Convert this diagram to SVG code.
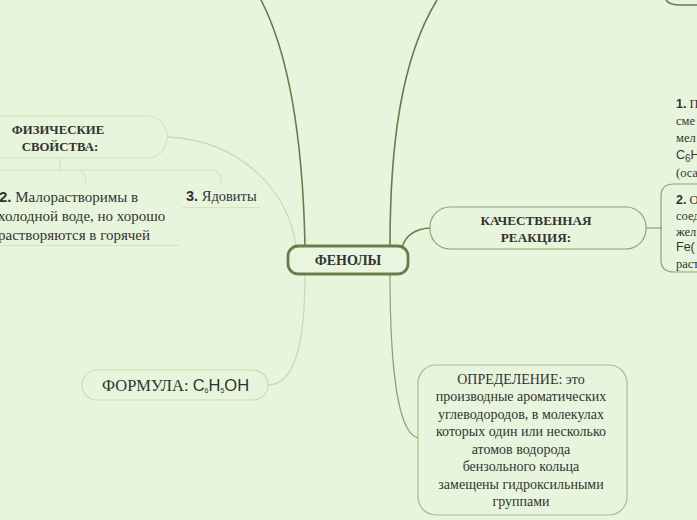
<svg xmlns="http://www.w3.org/2000/svg" width="697" height="520" viewBox="0 0 697 520">
<style>
.bg{fill:#e7f5dc}
.t{font-family:"Liberation Serif","Times New Roman",serif;fill:#333}
.b{font-weight:bold}
.s{font-family:"Liberation Sans",Arial,sans-serif;fill:#333}
.dark{fill:none;stroke:#6b7c4c;stroke-width:1.6}
.mid{fill:none;stroke:#8ea36c;stroke-width:1.2}
.light{fill:none;stroke:#c9dcb0;stroke-width:1.3}
.pale{fill:none;stroke:#d3e3be;stroke-width:1.2}
</style>
<rect class="bg" x="0" y="0" width="697" height="520"/>
<g id="connectors">
<path class="dark" d="M305 246 C303 150 292 60 261 0"/>
<path class="dark" d="M390 246 C390 150 400 60 437 0"/>
<path class="dark" d="M402 248 C405 236 414 229 430 228"/>
<path class="mid" d="M390 274 C390 380 400 438 420 438"/>
<path class="light" d="M305 274 C305 340 296 385 268 385"/>
<path class="light" d="M167 137 C240 140 288 190 296 246"/>
<path class="mid" d="M646 228 H662"/>
<path class="pale" d="M60 158 V170 M0 170 H76 Q86 170 86 183 M60 170 H211 Q221 170 221 183"/>
</g>
<g id="top-right">
<path class="dark" d="M666 0 Q669 5 681 5 H697"/>
</g>
<g id="fenoly">
<rect x="288" y="246" width="120" height="28" rx="10" fill="#e9f6df" stroke="#6b7c4c" stroke-width="2.8"/>
<text class="t b" x="348" y="265" font-size="14" text-anchor="middle">ФЕНОЛЫ</text>
</g>
<g id="kachestvennaya">
<rect x="430" y="207" width="216" height="42" rx="20" fill="#e7f5dc" stroke="#8ea36c" stroke-width="1.2"/>
<text class="t b" x="536" y="225" font-size="13.2" text-anchor="middle">КАЧЕСТВЕННАЯ</text>
<text class="t b" x="536" y="242" font-size="13.2" text-anchor="middle">РЕАКЦИЯ:</text>
</g>
<g id="reaction-1">
<text x="676" y="108" font-size="12.5"><tspan class="s b">1.</tspan><tspan class="t"> П</tspan></text>
<text class="t" x="676" y="125" font-size="12.5">сме</text>
<text class="t" x="676" y="142" font-size="12.5">мел</text>
<text class="s" x="676" y="159" font-size="12.5">C<tspan font-size="10" dy="3">6</tspan><tspan dy="-3">H</tspan></text>
<text class="t" x="676" y="177" font-size="12.5">(оса</text>
</g>
<g id="reaction-2">
<path class="mid" d="M697 184 H674 Q661 184 661 196 V260 Q661 272 674 272 H697"/>
<text x="676" y="204" font-size="12.5"><tspan class="s b">2.</tspan><tspan class="t"> О</tspan></text>
<text class="t" x="676" y="220" font-size="12.5">соед</text>
<text class="t" x="676" y="236" font-size="12.5">жел</text>
<text class="s" x="676" y="251" font-size="12.5">Fe(</text>
<text class="t" x="676" y="268" font-size="12.5">раст</text>
</g>
<g id="fizicheskie">
<rect x="-30" y="116" width="197" height="42" rx="20" fill="#e7f5dc" stroke="#d3e3be" stroke-width="1.2"/>
<text class="t b" x="58" y="134" font-size="12.8" text-anchor="middle">ФИЗИЧЕСКИЕ</text>
<text class="t b" x="60" y="151" font-size="12.8" text-anchor="middle">СВОЙСТВА:</text>
</g>
<g id="svoistvo-2">
<text x="-1" y="202" font-size="15"><tspan class="s b">2.</tspan><tspan class="t"> Малорастворимы в</tspan></text>
<text class="t" x="-2" y="221" font-size="15">холодной воде, но хорошо</text>
<text class="t" x="-2" y="240" font-size="15">растворяются в горячей</text>
<path class="pale" d="M0 245.5 H179"/>
</g>
<g id="svoistvo-3">
<text x="186" y="201" font-size="14.5"><tspan class="s b">3.</tspan><tspan class="t"> Ядовиты</tspan></text>
<path class="pale" d="M182 207.5 H260"/>
</g>
<g id="formula">
<rect x="82" y="370" width="186" height="30" rx="15" fill="#e7f5dc" stroke="#c9dcb0" stroke-width="1.2"/>
<text x="102" y="391" font-size="16.5"><tspan class="t">ФОРМУЛА: </tspan><tspan class="s">C</tspan><tspan class="s" font-size="7" dy="2">6</tspan><tspan class="s" dy="-2">H</tspan><tspan class="s" font-size="7" dy="2">5</tspan><tspan class="s" dy="-2">OH</tspan></text>
</g>
<g id="opredelenie">
<rect x="418" y="365" width="209" height="150" rx="18" fill="#e7f5dc" stroke="#a9bf88" stroke-width="1.2"/>
<g class="t" font-size="14" text-anchor="middle">
<text x="521" y="384">ОПРЕДЕЛЕНИЕ: это</text>
<text x="521" y="401">производные ароматических</text>
<text x="521" y="419">углеводородов, в молекулах</text>
<text x="521" y="436">которых один или несколько</text>
<text x="521" y="454">атомов водорода</text>
<text x="521" y="471">бензольного кольца</text>
<text x="521" y="489">замещены гидроксильными</text>
<text x="521" y="506">группами</text>
</g>
</g>
</svg>
